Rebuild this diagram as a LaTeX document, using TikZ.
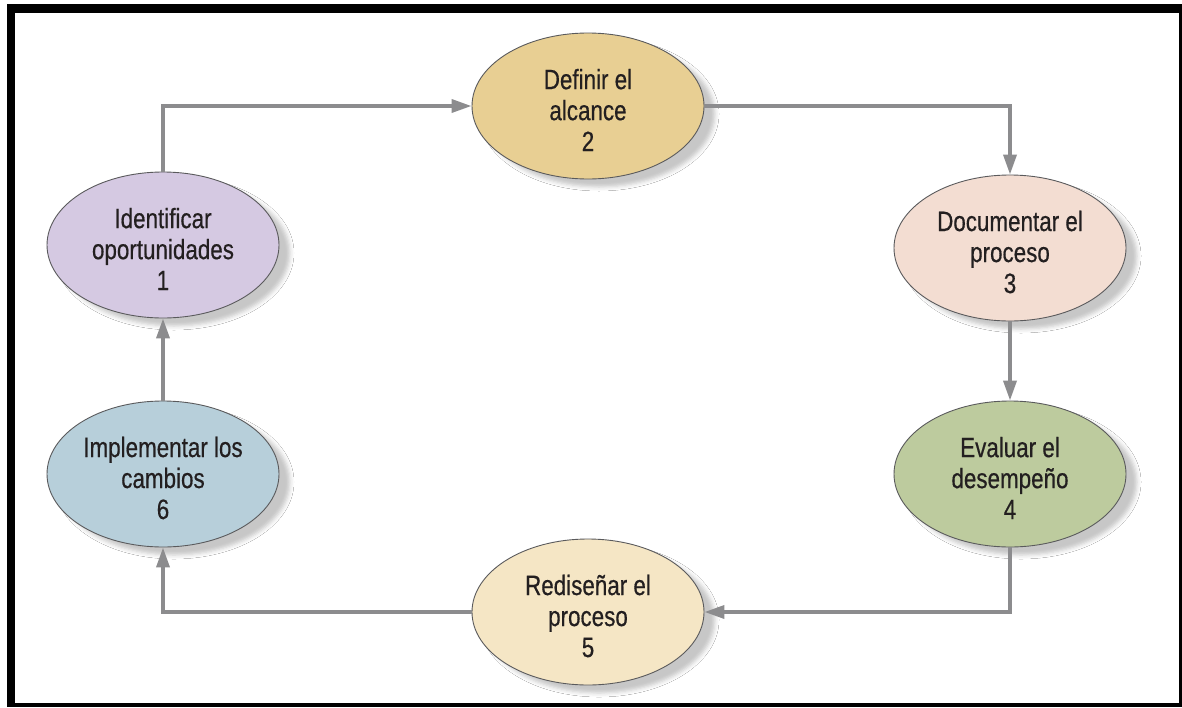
\documentclass[tikz,border=0pt]{standalone}
\usepackage{fontspec}
\setmainfont{Liberation Sans}[FakeStretch=0.80,FakeBold=0.5]
\usetikzlibrary{arrows.meta,shadows.blur,shapes.geometric}

\definecolor{txt}{HTML}{231F20}
\definecolor{conncol}{HTML}{8C8C8E}
\definecolor{rim}{HTML}{5A5A5C}
\definecolor{cOne}{HTML}{D5C9E2}
\definecolor{cTwo}{HTML}{E8CF93}
\definecolor{cThree}{HTML}{F3DDD2}
\definecolor{cFour}{HTML}{BDCB9E}
\definecolor{cFive}{HTML}{F5E6C5}
\definecolor{cSix}{HTML}{B7CFDA}

\tikzset{
  stage/.style={ellipse, draw=rim, line width=0.9pt, fill=#1,
    minimum width=232pt, minimum height=146pt, inner sep=0pt,
    blur shadow={shadow xshift=11pt, shadow yshift=-8pt,
      shadow blur radius=4pt, shadow opacity=22}},
  stagetext/.style={align=center, text=txt, inner sep=0pt,
    font=\fontsize{28}{31}\selectfont, yshift=-4pt},
  conn/.style={draw=conncol, line width=3.6pt,
    -{Triangle[length=20pt,width=13pt]}},
}

\begin{document}
\begin{tikzpicture}[x=1pt,y=-1pt]
  \useasboundingbox (0,0) rectangle (1182,707);
  \fill[white] (0,0) rectangle (1182,707);

  % frame
  \fill[black] (7,4) rectangle (15,707);
  \fill[black] (7,4) rectangle (1182,13);
  \fill[black] (1179,4) rectangle (1182,707);
  \fill[black] (7,703) rectangle (1182,707);

  % stages of the cycle
  \node[stage=cOne, label={[stagetext]center:Identificar\\oportunidades\\1}] (n1) at (163,245) {};
  \node[stage=cTwo, label={[stagetext]center:Definir el\\alcance\\2}] (n2) at (588,106) {};
  \node[stage=cThree, label={[stagetext]center:Documentar el\\proceso\\3}] (n3) at (1010,248) {};
  \node[stage=cFour, label={[stagetext]center:Evaluar el\\desempeño\\4}] (n4) at (1010,474) {};
  \node[stage=cFive, label={[stagetext]center:Rediseñar el\\proceso\\5}] (n5) at (588,612) {};
  \node[stage=cSix, label={[stagetext]center:Implementar los\\cambios\\6}] (n6) at (163,474) {};

  % connectors
  \draw[conn] (n1.north) |- (n2.west);
  \draw[conn] (n2.east) -| (n3.north);
  \draw[conn] (n3.south) -- (n4.north);
  \draw[conn] (n4.south) |- (n5.east);
  \draw[conn] (n5.west) -| (n6.south);
  \draw[conn] (n6.north) -- (n1.south);
\end{tikzpicture}
\end{document}
